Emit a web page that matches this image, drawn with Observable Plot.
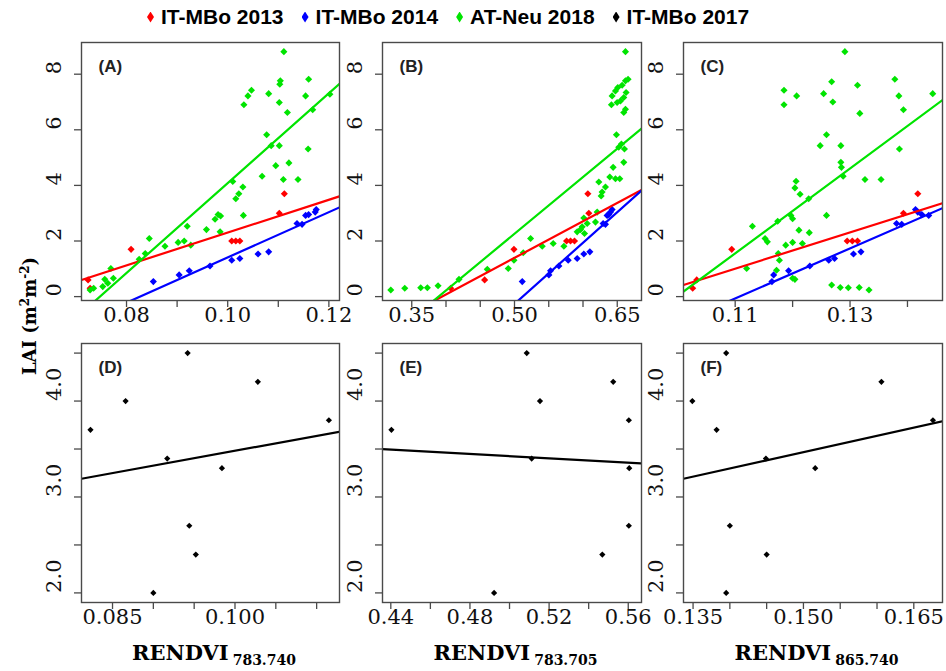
<!DOCTYPE html>
<html><head><meta charset="utf-8">
<script src="https://cdn.jsdelivr.net/npm/d3@7"></script>
<script src="https://cdn.jsdelivr.net/npm/@observablehq/plot@0.6"></script>
<style>
body{margin:0;background:#fff;}
#fig{position:relative;width:946px;height:671px;overflow:hidden;background:#fff;}
#legend{position:absolute;top:4px;left:147px;display:flex;gap:18px;font-family:"Liberation Sans",Arial,sans-serif;font-weight:bold;font-size:21px;color:#000;line-height:26px;white-space:nowrap;}
#legend .item{display:flex;align-items:center;}
#legend .mk{display:inline-block;width:7px;height:11px;clip-path:polygon(50% 0,100% 50%,50% 100%,0 50%);margin-right:7px;}
.xt{position:absolute;font-family:"DejaVu Serif",serif;font-weight:bold;font-size:21px;white-space:nowrap;transform:translateX(-50%);line-height:22px;}
.xt sub{font-size:14px;vertical-align:-5px;margin-left:4px;}
.yt{position:absolute;font-family:"DejaVu Serif",serif;font-weight:bold;font-size:18px;white-space:nowrap;transform:translate(-50%,-50%) rotate(-90deg);}
.yt sup{font-size:12px;vertical-align:7px;}
</style></head>
<body><div id="fig"><div id="legend"></div></div>
<script>
// ---------------- series ----------------
const seriesNames = ["IT-MBo 2013", "IT-MBo 2014", "AT-Neu 2018", "IT-MBo 2017"];
const seriesColors = ["#ff0000", "#0000ff", "#00e400", "#000000"];

// IT-MBo 2013 (red): LAI and RENDVI per panel (A, B, C)
const lai2013 = [0.3, 0.6, 1.7, 2.0, 2.0, 2.0, 3.0, 3.7];
const a2013 = [0.0728, 0.0724, 0.0809, 0.1008, 0.1016, 0.1024, 0.1102, 0.1112];
const b2013 = [0.4069, 0.4564, 0.4992, 0.5760, 0.5818, 0.5876, 0.6085, 0.6071];
const c2013 = [0.1026, 0.1033, 0.1094, 0.1295, 0.1304, 0.1313, 0.1393, 0.1418];

// IT-MBo 2014 (blue)
const lai2014 = [0.54, 0.78, 0.93, 1.10, 1.31, 1.37, 1.53, 1.61, 2.63, 2.60, 2.92, 2.95, 3.04, 3.13];
const a2014 = [0.0853, 0.0904, 0.0924, 0.0965, 0.1008, 0.1024, 0.1060, 0.1081, 0.1137, 0.1147, 0.1154, 0.1160, 0.1173, 0.1175];
const b2014 = [0.5113, 0.5502, 0.5526, 0.5648, 0.5784, 0.5915, 0.6012, 0.6100, 0.6294, 0.6328, 0.6352, 0.6377, 0.6401, 0.6425];
const c2014 = [0.1164, 0.1167, 0.1193, 0.1230, 0.1263, 0.1273, 0.1306, 0.1319, 0.1381, 0.1390, 0.1437, 0.1425, 0.1418, 0.1414];

// AT-Neu 2018 (green), read per panel
const aNeuX = [0.1111,0.1160,0.1104,0.1103,0.1154,0.1202,0.1081,0.1047,0.1040,0.1032,0.1102,0.1118,0.1168,0.1077,0.1086,0.1102,0.1159,0.1095,0.1121,0.1068,0.1110,0.1139,0.1010,0.1030,0.1022,0.1016,0.0981,0.0986,0.0975,0.1031,0.0958,0.0985,0.0920,0.0927,0.0902,0.0914,0.0876,0.0845,0.0837,0.0825,0.0769,0.0774,0.0757,0.0753,0.0735,0.0728,0.0763];
const aNeuY = [8.81,7.82,7.76,7.64,7.22,7.28,7.30,7.42,7.22,6.90,6.98,6.62,6.72,5.82,5.43,5.43,5.31,4.71,4.81,4.33,4.21,4.21,4.14,3.94,3.70,3.52,2.95,2.90,2.78,2.92,2.41,2.33,2.53,1.85,1.95,2.00,1.81,2.09,1.55,1.34,1.01,0.66,0.62,0.36,0.30,0.24,0.48];
const bNeuX = [0.3194,0.3398,0.3631,0.3728,0.3884,0.4190,0.4603,0.4909,0.4992,0.5128,0.5235,0.5405,0.5565,0.5721,0.5915,0.5964,0.5988,0.6022,0.6061,0.6012,0.6182,0.6207,0.6265,0.6279,0.6328,0.6231,0.6391,0.6474,0.6537,0.6440,0.6595,0.6522,0.6561,0.6605,0.6488,0.6595,0.6620,0.6415,0.6498,0.6547,0.6425,0.6474,0.6508,0.6571,0.6620,0.6658,0.6629,0.6595,0.6620];
const bNeuY = [0.24,0.30,0.32,0.32,0.39,0.62,0.98,1.01,1.31,1.58,2.09,1.81,1.91,1.81,2.33,2.41,2.51,2.27,2.63,2.83,2.68,3.04,3.62,3.76,3.94,4.12,4.30,4.24,4.24,4.65,4.83,5.37,5.49,5.31,5.82,6.62,6.74,6.90,6.98,7.04,7.22,7.40,7.52,7.60,7.76,7.82,7.34,7.16,8.81];
const cNeuX = [0.1120,0.1130,0.1152,0.1156,0.1174,0.1175,0.1177,0.1172,0.1185,0.1185,0.1188,0.1200,0.1204,0.1200,0.1197,0.1200,0.1206,0.1204,0.1213,0.1207,0.1211,0.1217,0.1229,0.1228,0.1248,0.1254,0.1259,0.1259,0.1268,0.1268,0.1270,0.1284,0.1284,0.1285,0.1288,0.1291,0.1283,0.1297,0.1313,0.1316,0.1317,0.1326,0.1333,0.1354,0.1378,0.1385,0.1386,0.1393,0.1444];
const cNeuY = [1.01,2.53,2.09,1.97,2.71,1.55,1.31,0.95,7.42,6.90,1.85,0.66,0.62,1.95,2.92,2.80,4.15,3.91,3.68,7.22,2.39,1.91,2.30,3.52,5.43,7.30,2.92,5.82,0.42,7.73,7.00,5.43,4.83,4.65,4.33,8.81,0.33,0.32,7.60,0.33,6.59,4.21,0.24,4.21,7.82,7.22,5.31,6.72,7.30];

// IT-MBo 2017 (black): LAI and RENDVI per panel (D, E, F)
const lai2017 = [3.7, 4.0, 3.4, 4.5, 2.7, 2.4, 2.0, 3.3, 4.2, 3.8];
const d2017 = [0.0823, 0.0866, 0.0917, 0.0942, 0.0944, 0.0952, 0.0900, 0.0984, 0.1028, 0.1115];
const e2017 = [0.4403, 0.5154, 0.5112, 0.5087, 0.5603, 0.5469, 0.4922, 0.5605, 0.5524, 0.5603];
const f2017 = [0.1382, 0.1349, 0.1449, 0.1395, 0.1400, 0.1450, 0.1395, 0.1516, 0.1606, 0.1676];

// fitted lines: [intercept, slope]
const fitA = [[-3.593, 58.96], [-6.727, 81.37], [-12.086, 161.7]];
const fitB = [[-5.187, 13.16], [-11.263, 22.0], [-7.939, 20.4]];
const fitC = [[-6.155, 65.1], [-9.966, 90.0], [-15.253, 152.8]];
const fitD = [1.930, 15.52];
const fitE = [3.999, -1.146];
const fitF = [0.909, 17.06];

// axis domains and ticks
const xDomA = [0.0711, 0.1221], xDomB = [0.3073, 0.6854], xDomC = [0.1010, 0.1461];
const xDomD = [0.0812, 0.1128], xDomE = [0.4358, 0.5667], xDomF = [0.1337, 0.1689];
const yDomTop = [-0.14, 9.14], yDomBot = [1.9, 4.6];
const xTicksA = [0.08, 0.09, 0.10, 0.11, 0.12], xLabA = ["0.08", "", "0.10", "", "0.12"];
const xTicksB = [0.35, 0.40, 0.45, 0.50, 0.55, 0.60, 0.65], xLabB = ["0.35", "", "", "0.50", "", "", "0.65"];
const xTicksC = [0.11, 0.12, 0.13, 0.14], xLabC = ["0.11", "", "0.13", ""];
const xTicksD = [0.085, 0.090, 0.095, 0.100, 0.105, 0.110], xLabD = ["0.085", "", "", "0.100", "", ""];
const xTicksE = [0.44, 0.46, 0.48, 0.50, 0.52, 0.54, 0.56], xLabE = ["0.44", "", "0.48", "", "0.52", "", "0.56"];
const xTicksF = [0.135, 0.140, 0.145, 0.150, 0.155, 0.160, 0.165], xLabF = ["0.135", "", "", "0.150", "", "", "0.165"];
const yTicksTop = [0, 2, 4, 6, 8], yLabTop = ["0", "2", "4", "6", "8"];
const yTicksBot = [2.0, 2.5, 3.0, 3.5, 4.0, 4.5], yLabBot = ["2.0", "", "3.0", "", "4.0", ""];

// ---------------- layout ----------------
const fig = document.getElementById("fig");
const colLeft = [81, 382, 683], colW = [258, 259, 259];
const rowTop = [42, 343], rowH = [258, 259];
const mL = 50, mR = 10, mT = 10, mB = 40;
const axisColor = "#4a4a4a";

function pts(xs, ys) { return xs.map((x, i) => ({x, y: ys[i]})); }
function pairs(ticks, labels) { return ticks.map((t, i) => ({t, s: labels[i]})).filter(d => d.s); }

function panel({col, row, xDom, yDom, xTicks, xLab, yTicks, yLab, groups, fits, tag}) {
  const W = colW[col], H = rowH[row];
  const marks = [
    Plot.axisX(xTicks, {tickSize: 7, tickFormat: () => "", label: null, stroke: axisColor, strokeWidth: 1.3}),
    Plot.axisY(yTicks, {tickSize: 7, tickFormat: () => "", label: null, stroke: axisColor, strokeWidth: 1.3}),
    Plot.text(pairs(xTicks, xLab), {x: "t", text: "s", frameAnchor: "bottom", dy: 21, fontSize: 21, fontFamily: "DejaVu Serif", fill: "#111"}),
    Plot.text(pairs(yTicks, yLab), {y: "t", text: "s", frameAnchor: "left", dx: -27, rotate: -90, fontSize: 21, fontFamily: "DejaVu Serif", fill: "#111"}),
  ];
  for (const g of groups) {
    marks.push(Plot.dot(pts(g.x, g.y), {x: "x", y: "y", symbol: "diamond2", r: g.r, fill: g.color, clip: true}));
  }
  for (const f of fits) {
    marks.push(Plot.line(xDom, {x: d => d, y: d => f.ab[0] + f.ab[1] * d, stroke: f.color, strokeWidth: 2.2, clip: true}));
  }
  marks.push(Plot.frame({stroke: axisColor, strokeWidth: 1.4}));
  marks.push(Plot.text([tag], {frameAnchor: "top-left", dx: 17, dy: 24, textAnchor: "start", lineAnchor: "middle",
    fontFamily: "Liberation Sans", fontWeight: "bold", fontSize: 17, fill: "#222"}));
  const svg = Plot.plot({
    width: W + mL + mR, height: H + mT + mB,
    marginLeft: mL, marginRight: mR, marginTop: mT, marginBottom: mB,
    x: {domain: xDom}, y: {domain: yDom},
    style: {background: "transparent", overflow: "visible"},
    marks
  });
  svg.style.position = "absolute";
  svg.style.left = (colLeft[col] - mL) + "px";
  svg.style.top = (rowTop[row] - mT) + "px";
  fig.appendChild(svg);
}

const [red, blue, green, black] = seriesColors;
panel({col: 0, row: 0, xDom: xDomA, yDom: yDomTop, xTicks: xTicksA, xLab: xLabA, yTicks: yTicksTop, yLab: yLabTop, tag: "(A)",
  groups: [{x: a2013, y: lai2013, color: red, r: 3.2}, {x: a2014, y: lai2014, color: blue, r: 3.2}, {x: aNeuX, y: aNeuY, color: green, r: 3.2}],
  fits: [{ab: fitA[0], color: red}, {ab: fitA[1], color: blue}, {ab: fitA[2], color: green}]});
panel({col: 1, row: 0, xDom: xDomB, yDom: yDomTop, xTicks: xTicksB, xLab: xLabB, yTicks: yTicksTop, yLab: yLabTop, tag: "(B)",
  groups: [{x: b2013, y: lai2013, color: red, r: 3.2}, {x: b2014, y: lai2014, color: blue, r: 3.2}, {x: bNeuX, y: bNeuY, color: green, r: 3.2}],
  fits: [{ab: fitB[0], color: red}, {ab: fitB[1], color: blue}, {ab: fitB[2], color: green}]});
panel({col: 2, row: 0, xDom: xDomC, yDom: yDomTop, xTicks: xTicksC, xLab: xLabC, yTicks: yTicksTop, yLab: yLabTop, tag: "(C)",
  groups: [{x: c2013, y: lai2013, color: red, r: 3.2}, {x: c2014, y: lai2014, color: blue, r: 3.2}, {x: cNeuX, y: cNeuY, color: green, r: 3.2}],
  fits: [{ab: fitC[0], color: red}, {ab: fitC[1], color: blue}, {ab: fitC[2], color: green}]});
panel({col: 0, row: 1, xDom: xDomD, yDom: yDomBot, xTicks: xTicksD, xLab: xLabD, yTicks: yTicksBot, yLab: yLabBot, tag: "(D)",
  groups: [{x: d2017, y: lai2017, color: black, r: 2.8}], fits: [{ab: fitD, color: black}]});
panel({col: 1, row: 1, xDom: xDomE, yDom: yDomBot, xTicks: xTicksE, xLab: xLabE, yTicks: yTicksBot, yLab: yLabBot, tag: "(E)",
  groups: [{x: e2017, y: lai2017, color: black, r: 2.8}], fits: [{ab: fitE, color: black}]});
panel({col: 2, row: 1, xDom: xDomF, yDom: yDomBot, xTicks: xTicksF, xLab: xLabF, yTicks: yTicksBot, yLab: yLabBot, tag: "(F)",
  groups: [{x: f2017, y: lai2017, color: black, r: 2.8}], fits: [{ab: fitF, color: black}]});

// legend
const legend = document.getElementById("legend");
seriesNames.forEach((name, i) => {
  const it = document.createElement("div"); it.className = "item";
  const mk = document.createElement("span"); mk.className = "mk"; mk.style.background = seriesColors[i];
  const tx = document.createElement("span"); tx.textContent = name;
  it.appendChild(mk); it.appendChild(tx); legend.appendChild(it);
});

// axis titles
const xTitles = [["RENDVI", "783.740"], ["RENDVI", "783.705"], ["RENDVI", "865.740"]];
xTitles.forEach((t, c) => {
  const d = document.createElement("div"); d.className = "xt";
  d.innerHTML = t[0] + "<sub>" + t[1] + "</sub>";
  d.style.left = (colLeft[c] + colW[c] / 2 + 4) + "px";
  d.style.top = "642px";
  fig.appendChild(d);
});
const yt = document.createElement("div"); yt.className = "yt";
yt.innerHTML = "LAI (m<sup>2</sup>m<sup>-2</sup>)";
yt.style.left = "29px"; yt.style.top = "316px";
fig.appendChild(yt);
</script></body></html>
